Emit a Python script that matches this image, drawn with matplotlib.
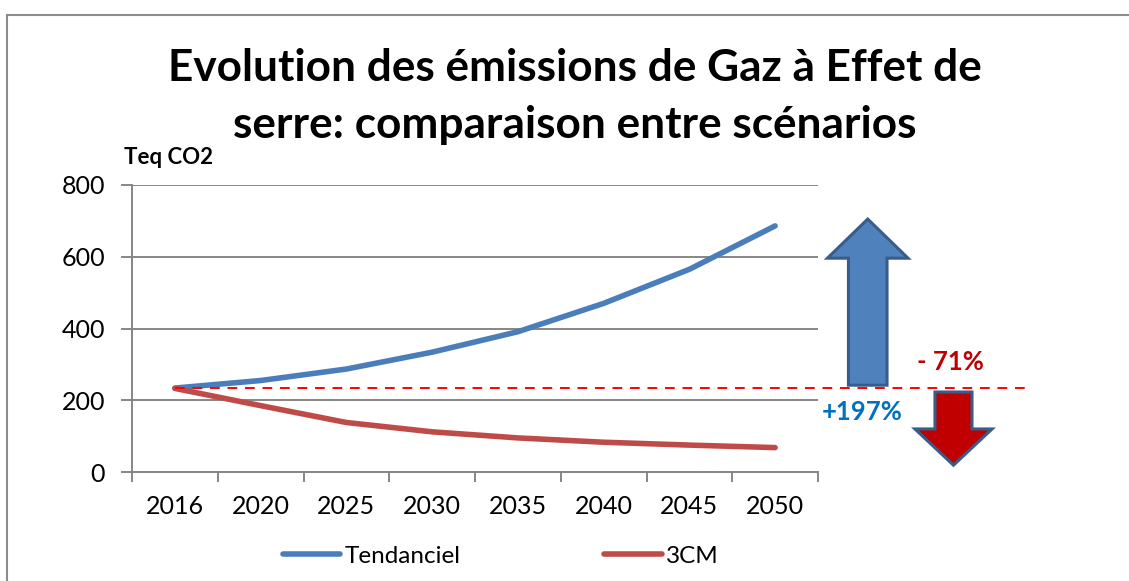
import numpy as np
import matplotlib.pyplot as plt
from matplotlib.patches import Polygon
from matplotlib.lines import Line2D

# --------------------------------------------------
# Data
# --------------------------------------------------

years = ["2016", "2020", "2025", "2030", "2035", "2040", "2045", "2050"]
tendanciel = [234, 255, 287, 334, 391, 470, 565, 686]
scenario_3cm = [233, 185, 138, 112, 95, 83, 75, 68]
y_ticks = [0, 200, 400, 600, 800]

BLUE = "#4A7EBB"
RED = "#BE4B48"
GRID = "#868686"
FONT = "Lato"

plt.rcParams["font.family"] = [FONT, "DejaVu Sans"]

W, H = 1129, 581
fig = plt.figure(figsize=(W / 100, H / 100), dpi=100)

# plot area in pixels: x 132..818, y 185..472
ax = fig.add_axes([132 / W, 1 - 472 / H, (818 - 132) / W, (472 - 185) / H])

x = np.arange(len(years))
ax.plot(x, tendanciel, color=BLUE, lw=4, solid_capstyle="round", zorder=3)
ax.plot(x, scenario_3cm, color=RED, lw=4, solid_capstyle="round", zorder=3)

ax.set_xlim(-0.5, len(years) - 0.5)
ax.set_ylim(0, 800)

# y axis & grid
ax.set_yticks(y_ticks)
ax.yaxis.grid(True, color=GRID, lw=1.4)
ax.set_axisbelow(True)
ax.tick_params(axis="y", length=8, width=1.4, color=GRID, pad=11.5, labelsize=18)

# x axis: tick marks between categories, labels centred
ax.set_xticks(np.arange(-0.5, len(years)), labels=[""] * (len(years) + 1))
ax.set_xticks(x, labels=years, minor=True)
ax.tick_params(axis="x", which="major", length=7, width=1.4, color=GRID)
ax.tick_params(axis="x", which="minor", length=0, pad=16.5, labelsize=18)

for s in ["top", "right"]:
    ax.spines[s].set_visible(False)
for s in ["left", "bottom"]:
    ax.spines[s].set_color(GRID)
    ax.spines[s].set_linewidth(1.4)

# reference (2016 level) dashed line extending beyond the plot
base = tendanciel[0]
ax.plot([0, 9.97], [base, base], color="#FF0000", lw=1.4, ls=(0, (5, 4)),
        clip_on=False, zorder=4)

# arrows
def arrow(cx, y0, yhead, ytip, half_shaft, half_head, fc):
    pts = [(cx - half_shaft, y0), (cx + half_shaft, y0), (cx + half_shaft, yhead),
           (cx + half_head, yhead), (cx, ytip), (cx - half_head, yhead),
           (cx - half_shaft, yhead)]
    ax.add_patch(Polygon(pts, closed=True, facecolor=fc, edgecolor="#385D8A",
                         lw=2.2, clip_on=False, zorder=5, joinstyle="miter"))

arrow(8.08, base + 8, 596, 705, 0.225, 0.47, "#4F81BD")
arrow(9.08, base - 11, 120, 19, 0.216, 0.45, "#C00000")

ax.text(9.04, 306, "- 71%", color="#C00000", fontsize=18.5, fontweight="bold",
        ha="center", va="center", clip_on=False)
ax.text(8.01, 167, "+197%", color="#0070C0", fontsize=18.5, fontweight="bold",
        ha="center", va="center", clip_on=False)

# titles
fig.text(575 / W, 1 - 68 / H, "Evolution des émissions de Gaz à Effet de",
         fontsize=31.8, fontweight="bold", ha="center", va="center")
fig.text(575 / W, 1 - 125 / H, "serre: comparaison entre scénarios",
         fontsize=31.8, fontweight="bold", ha="center", va="center")
fig.text(124 / W, 1 - 157 / H, "Teq CO2", fontsize=16, fontweight="bold",
         ha="left", va="center")

# legend
handles = [Line2D([], [], color=BLUE, lw=4, solid_capstyle="round"),
           Line2D([], [], color=RED, lw=4, solid_capstyle="round")]
fig.legend(handles, ["Tendanciel", "3CM"], ncol=2, frameon=False,
           loc="center left", bbox_to_anchor=(283 / W, 1 - 556 / H),
           borderpad=0, borderaxespad=0, fontsize=17.5, handlelength=2.35,
           handletextpad=0.2, columnspacing=5.9)

# outer chart border (top and left edges visible)
fig.add_artist(Line2D([7 / W, 1], [1 - 15 / H, 1 - 15 / H], color="#8C8C8C", lw=1.5))
fig.add_artist(Line2D([7 / W, 7 / W], [0, 1 - 15 / H], color="#8C8C8C", lw=1.5))

fig.savefig("out.png", dpi=100)
